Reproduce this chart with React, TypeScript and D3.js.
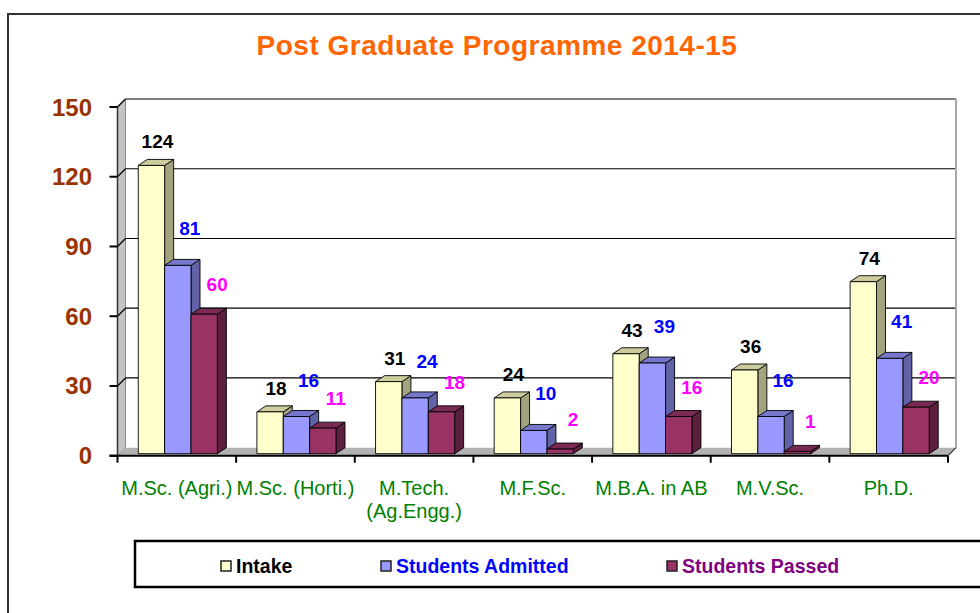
import React from "react";
import * as d3 from "d3";

const categories = ["M.Sc. (Agri.)", "M.Sc. (Horti.)", "M.Tech.|(Ag.Engg.)", "M.F.Sc.", "M.B.A. in AB", "M.V.Sc.", "Ph.D."];
const seriesNames = ["Intake", "Students Admitted", "Students Passed"];
const intake = [124, 18, 31, 24, 43, 36, 74];
const admitted = [81, 16, 24, 10, 39, 16, 41];
const passed = [60, 11, 18, 2, 16, 1, 20];
const yTicks = [0, 30, 60, 90, 120, 150];
const titleText = "Post Graduate Programme 2014-15";

const W = 980;
const H = 613;
const FONT = "Arial, 'Liberation Sans', Helvetica, sans-serif";

const styles = [
  { front: "#FFFFCC", top: "#CCCC9E", side: "#A3A37F", label: "#000000", legend: "#000000", ldx: 6, ldy: -24 },
  { front: "#9999FF", top: "#7676CC", side: "#6262A6", label: "#0000FF", legend: "#0000FF", ldx: 12, ldy: -37 },
  { front: "#993366", top: "#7A2952", side: "#5C1F3D", label: "#FF00FF", legend: "#800080", ldx: 13, ldy: -30 },
];

export default function App() {
  const series = [intake, admitted, passed];
  const x = d3.scaleBand<string>().domain(categories).range([117.5, 948]).paddingInner(0).paddingOuter(0);
  const inner = d3.scaleBand<string>().domain(seriesNames).range([0, x.bandwidth()]).paddingInner(0).paddingOuter(0.75);
  const y = d3.scaleLinear().domain([0, 150]).range([455.7, 107]);

  const wdx = 8, wdy = -8; // wall depth
  const bdx = 9, bdy = -6; // bar depth
  const bshx = 1, bshy = -2; // bar placement inside floor
  const xL = 117.5, xR = 948;
  const y0 = y(0);
  const yTop = y(150);

  const pts = (a: number[][]) => a.map((p) => p.join(",")).join(" ");

  const bars: React.ReactNode[] = [];
  const labels: React.ReactNode[] = [];
  categories.forEach((c, ci) => {
    seriesNames.forEach((s, si) => {
      const v = series[si][ci];
      const st = styles[si];
      const x0 = (x(c) as number) + (inner(s) as number) + bshx;
      const x1 = x0 + inner.bandwidth();
      const yt = y(v) + bshy;
      const yb = y(0) + bshy;
      bars.push(
        <g key={`b${ci}-${si}`} stroke="#000" strokeWidth={0.9} strokeLinejoin="round">
          <polygon points={pts([[x1, yt], [x1 + bdx, yt + bdy], [x1 + bdx, yb + bdy], [x1, yb]])} fill={st.side} />
          <polygon points={pts([[x0, yt], [x0 + bdx, yt + bdy], [x1 + bdx, yt + bdy], [x1, yt]])} fill={st.top} />
          <rect x={x0} y={yt} width={x1 - x0} height={Math.max(yb - yt, 0.5)} fill={st.front} />
        </g>
      );
      labels.push(
        <text key={`l${ci}-${si}`} x={(x0 + x1) / 2 + st.ldx} y={yt + st.ldy + 7} textAnchor="middle"
          fontFamily={FONT} fontWeight="bold" fontSize={19} fill={st.label}>{v}</text>
      );
    });
  });

  const legendX = [221, 381, 667];

  return (
    <svg width={W} height={H} style={{ position: "absolute", left: 0, top: 0, background: "#fff" }}>
      <rect x={0} y={0} width={W} height={H} fill="#fff" />
      {/* outer frame */}
      <rect x={8} y={14} width={W + 20} height={H + 20} fill="none" stroke="#333" strokeWidth={2} />
      {/* title */}
      <text x={497} y={55} textAnchor="middle" fontFamily={FONT} fontWeight="bold" fontSize={28} letterSpacing={0.5} fill="#FF6600">{titleText}</text>

      {/* back wall */}
      <rect x={xL + wdx} y={yTop + wdy} width={xR - xL} height={y0 - yTop} fill="#fff" />
      {/* left wall */}
      <polygon points={pts([[xL, yTop], [xL + wdx, yTop + wdy], [xL + wdx, y0 + wdy], [xL, y0]])} fill="#C4C4C4" stroke="#888" strokeWidth={1} />
      {/* floor */}
      <polygon points={pts([[xL, y0], [xL + wdx, y0 + wdy], [xR + wdx, y0 + wdy], [xR, y0]])} fill="#B2B2B2" />
      {/* gridlines */}
      {yTicks.filter((t) => t > 0).map((t) => (
        <g key={`g${t}`}>
          <line x1={xL} y1={y(t)} x2={xL + wdx} y2={y(t) + wdy} stroke="#000" strokeWidth={1.2} />
          <line x1={xL + wdx} y1={y(t) + wdy} x2={xR + wdx} y2={y(t) + wdy} stroke="#000" strokeWidth={1.2} />
        </g>
      ))}
      {/* right wall edge */}
      <line x1={xR + wdx} y1={yTop + wdy} x2={xR + wdx} y2={y0 + wdy} stroke="#A8A8A8" strokeWidth={2} />
      <line x1={xR} y1={y0} x2={xR + wdx} y2={y0 + wdy} stroke="#333" strokeWidth={1.2} />

      {bars}

      {/* axes */}
      <line x1={xL} y1={yTop} x2={xL} y2={y0} stroke="#333" strokeWidth={1.5} />
      <line x1={xL - 8} y1={y0} x2={xR} y2={y0} stroke="#000" strokeWidth={2} />
      {yTicks.map((t) => (
        <g key={`yt${t}`}>
          <line x1={xL - 8} y1={y(t)} x2={xL} y2={y(t)} stroke="#000" strokeWidth={2} />
          <text x={92} y={y(t) + 8.5} textAnchor="end" fontFamily={FONT} fontWeight="bold" fontSize={24} fill="#993300">{t}</text>
        </g>
      ))}
      {[...categories.map((c) => x(c) as number), xR].map((xv, i) => (
        <line key={`xt${i}`} x1={xv} y1={y0} x2={xv} y2={y0 + 7} stroke="#000" strokeWidth={2} />
      ))}
      {categories.map((c) => {
        const lines = c.split("|");
        const cx = (x(c) as number) + x.bandwidth() / 2;
        return (
          <text key={`xl${c}`} x={cx} y={495} textAnchor="middle" fontFamily={FONT} fontSize={20} fill="#008000">
            {lines.map((ln, li) => (
              <tspan key={li} x={cx} dy={li === 0 ? 0 : 23}>{ln}</tspan>
            ))}
          </text>
        );
      })}

      {labels}

      {/* legend */}
      <rect x={135} y={541} width={900} height={46} fill="#fff" stroke="#000" strokeWidth={2.5} />
      {seriesNames.map((s, i) => (
        <g key={`lg${s}`}>
          <rect x={legendX[i]} y={561} width={10} height={10} fill={styles[i].front} stroke="#222" strokeWidth={1.5} />
          <text x={legendX[i] + 15} y={573} fontFamily={FONT} fontWeight="bold" fontSize={19.5} fill={styles[i].legend}>{s}</text>
        </g>
      ))}
    </svg>
  );
}
